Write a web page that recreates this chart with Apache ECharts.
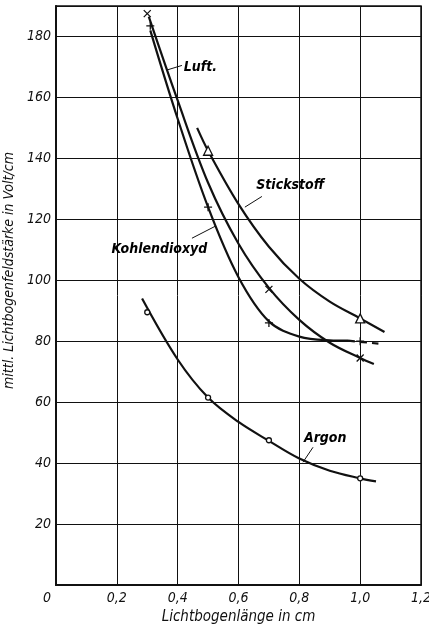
<!DOCTYPE html>
<html>
<head>
<meta charset="utf-8">
<script src="https://cdn.jsdelivr.net/npm/echarts@6/dist/echarts.min.js"></script>
<style>
  html, body { margin: 0; background: #fff; }
  #chart { width: 429px; height: 626px; }
</style>
</head>
<body>
<div id="chart"></div>
<script>
// gemessene Punkte [Lichtbogenlänge cm, Feldstärke V/cm]
const luftPts = [[0.30, 187.5], [0.70, 97], [1.0, 74.5]];
const co2Pts = [[0.31, 183.5], [0.50, 124], [0.70, 86], [1.0, 80]];
const n2Pts = [[0.50, 142.5], [1.0, 87.5]];
const argonPts = [[0.30, 89.5], [0.50, 61.5], [0.70, 47.5], [1.0, 35]];

// ausgeglichene Kurven
const luftCurve = [[0.305, 186.5], [0.40, 159], [0.50, 132], [0.60, 112], [0.70, 97.5],
  [0.80, 87], [0.90, 79.5], [1.0, 74.5], [1.045, 72.5]];
const co2Curve = [[0.31, 182], [0.40, 153], [0.50, 124], [0.60, 101], [0.70, 86.5],
  [0.80, 81.5], [0.90, 80.3], [0.96, 80.2]];
const co2Dashed = [[0.96, 80.2], [1.06, 79.2]];
const n2Curve = [[0.464, 150], [0.50, 142.5], [0.60, 125], [0.70, 111], [0.80, 100.5],
  [0.90, 93], [1.0, 87.5], [1.08, 83]];
const argonCurve = [[0.283, 94], [0.40, 74], [0.50, 61.5], [0.60, 53.5], [0.70, 47.3],
  [0.80, 41.5], [0.90, 37.5], [1.0, 35], [1.052, 34]];

// Beschriftungen und Hinweislinien
const labelNames = ['Luft.', 'Stickstoff', 'Kohlendioxyd', 'Argon'];
const labelPos = [[0.475, 170], [0.77, 131], [0.34, 110], [0.885, 48]];
const leaders = [
  [[0.365, 169], [0.414, 170.5]],
  [[0.621, 124], [0.677, 127.5]],
  [[0.447, 113.8], [0.523, 117.7]],
  [[0.812, 40.3], [0.845, 45.2]]
];

const FONT = "'DejaVu Sans Condensed', 'Liberation Sans Narrow', sans-serif";
const INK = '#111';

const crossSym = 'path://M0,0L10,10M10,0L0,10';
const plusSym = 'path://M5,0L5,10M0,5L10,5';

function curve(data, dashed) {
  return {
    type: 'line', data: data, smooth: 0.35, showSymbol: false, silent: true,
    lineStyle: { color: INK, width: 2.2, type: dashed ? [7, 5] : 'solid' },
    z: 3
  };
}
function marks(data, symbol, size, fill) {
  return {
    type: 'scatter', data: data, symbol: symbol, symbolSize: size, silent: true,
    itemStyle: { color: fill, borderColor: INK, borderWidth: 1.3, opacity: 1 },
    z: 5
  };
}

const chart = echarts.init(document.getElementById('chart'));
chart.setOption({
  backgroundColor: '#fff',
  animation: false,
  grid: {
    left: 56, right: 8, top: 6, bottom: 41, outerBoundsMode: 'none',
    show: true, borderColor: INK, borderWidth: 1.5
  },
  xAxis: {
    type: 'value', min: 0, max: 1.2, interval: 0.2,
    name: 'Lichtbogenlänge in cm', nameLocation: 'middle', nameGap: 22,
    nameTextStyle: { fontFamily: FONT, fontStyle: 'italic', fontSize: 15, color: INK },
    axisLine: { show: true, lineStyle: { color: INK, width: 2 } },
    axisTick: { show: false },
    splitLine: { show: true, lineStyle: { color: INK, width: 1 } },
    axisLabel: {
      fontFamily: FONT, fontStyle: 'italic', fontSize: 14, color: INK, margin: 6,
      formatter: function (v) {
        return v === 0 ? '{z|0}' : v.toFixed(1).replace('.', ',');
      },
      rich: { z: { fontFamily: FONT, fontStyle: 'italic', fontSize: 14, color: INK, padding: [0, 18, 0, 0] } }
    }
  },
  yAxis: {
    type: 'value', min: 0, max: 190, interval: 20,
    name: 'mittl. Lichtbogenfeldstärke in Volt/cm', nameLocation: 'middle', nameGap: 38,
    nameTextStyle: { fontFamily: FONT, fontStyle: 'italic', fontSize: 14, color: INK, padding: [0, 0, 0, 50] },
    axisLine: { show: true, lineStyle: { color: INK, width: 2 } },
    axisTick: { show: false },
    splitLine: { show: true, lineStyle: { color: INK, width: 1 } },
    axisLabel: {
      fontFamily: FONT, fontStyle: 'italic', fontSize: 14, color: INK, margin: 5,
      showMaxLabel: false,
      formatter: function (v) { return v === 0 ? '' : String(v); }
    }
  },
  series: [
    curve(luftCurve),
    curve(co2Curve),
    curve(co2Dashed, true),
    curve(n2Curve),
    curve(argonCurve),
    marks(luftPts, crossSym, 7, 'transparent'),
    marks(co2Pts, plusSym, 8, 'transparent'),
    marks(n2Pts, 'triangle', 9, '#fff'),
    marks(argonPts, 'circle', 5, '#fff'),
    {
      type: 'scatter', silent: true, symbolSize: 1,
      itemStyle: { color: '#fff', opacity: 0 },
      data: labelNames.map(function (n, i) { return { name: n, value: labelPos[i] }; }),
      label: {
        show: true, position: 'inside', formatter: '{b}', opacity: 1,
        fontFamily: FONT, fontStyle: 'italic', fontWeight: 'bold', fontSize: 14, color: '#000'
      },
      markLine: {
        silent: true, symbol: 'none', animation: false,
        label: { show: false },
        lineStyle: { color: INK, width: 1, type: 'solid', opacity: 1 },
        data: leaders.map(function (l) { return [{ coord: l[0] }, { coord: l[1] }]; })
      },
      z: 6
    }
  ]
});
</script>
</body>
</html>
